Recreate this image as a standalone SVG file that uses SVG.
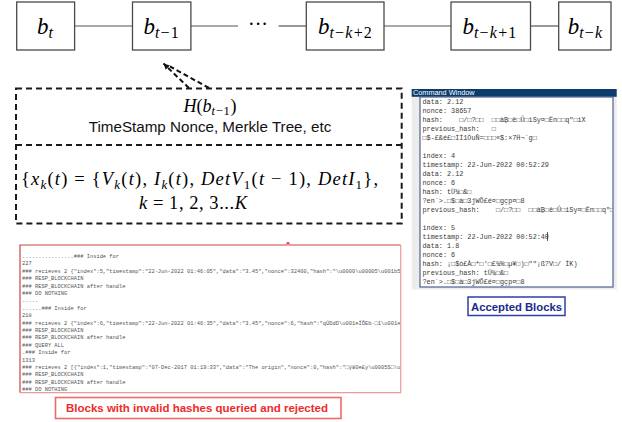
<svg xmlns="http://www.w3.org/2000/svg" width="622" height="422" viewBox="0 0 622 422">
<style>
.box{fill:#fff;stroke:#4a4a4a;stroke-width:1.3}
.link{stroke:#555;stroke-width:1.2;fill:none}
.m{font-family:"Liberation Serif","DejaVu Serif",serif;font-style:italic;fill:#000}
.up{font-style:normal}
.lbl{font-size:23px}
.sb{font-size:16px;letter-spacing:1.2px}
.dash{stroke:#1a1a1a;stroke-width:2;stroke-dasharray:6 4;fill:none}
.arr{stroke:#111;stroke-width:2;stroke-dasharray:5 3;fill:none}
.sans{font-family:"Liberation Sans",Arial,sans-serif}
.cw{font-family:"Liberation Mono","DejaVu Sans Mono",monospace;font-size:6.8px;fill:#3a3a3a;white-space:pre}
.lg{font-family:"Liberation Mono","DejaVu Sans Mono",monospace;font-size:5.4px;fill:#555;white-space:pre}
</style>
<defs>
<marker id="ah" markerWidth="8" markerHeight="8" refX="6" refY="3" orient="auto" markerUnits="userSpaceOnUse">
<path d="M0,0 L6,3 L0,6 z" fill="#111"/>
</marker>
<clipPath id="cwclip"><rect x="421" y="97.5" width="191.5" height="189"/></clipPath>
<clipPath id="lgclip"><rect x="21" y="246" width="379" height="146"/></clipPath>
</defs>
<rect width="622" height="422" fill="#fff"/>

<g id="connectors">
<line class="link" x1="74.6" y1="26" x2="132.5" y2="26"/>
<line class="link" x1="190.9" y1="26" x2="238" y2="26"/>
<text class="m up" x="258" y="31" font-size="20" text-anchor="middle">···</text>
<line class="link" x1="278.6" y1="26" x2="306.3" y2="26"/>
<line class="link" x1="384" y1="26" x2="451" y2="26"/>
<line class="link" x1="530.5" y1="26" x2="558.7" y2="26"/>
<line class="arr" x1="189" y1="88" x2="163.5" y2="63.5" marker-end="url(#ah)"/>
<line class="arr" x1="209" y1="88" x2="170" y2="66.5"/>
</g>

<g id="node-bt">
<rect class="box" x="16.7" y="2" width="57.9" height="48"/>
<text class="m lbl" x="45.6" y="33.5" text-anchor="middle">b<tspan class="sb" dy="4">t</tspan></text>
</g>
<g id="node-bt1">
<rect class="box" x="132.5" y="2" width="58.4" height="48"/>
<text class="m lbl" x="161.7" y="33.5" text-anchor="middle">b<tspan class="sb" dy="4">t<tspan class="up">−1</tspan></tspan></text>
</g>
<g id="node-btk2">
<rect class="box" x="306.3" y="2" width="77.7" height="48"/>
<text class="m lbl" x="345.5" y="33.5" text-anchor="middle">b<tspan class="sb" dy="4">t<tspan class="up">−</tspan>k<tspan class="up">+2</tspan></tspan></text>
</g>
<g id="node-btk1">
<rect class="box" x="451" y="2" width="79.5" height="48"/>
<text class="m lbl" x="490" y="33.5" text-anchor="middle">b<tspan class="sb" dy="4">t<tspan class="up">−</tspan>k<tspan class="up">+1</tspan></tspan></text>
</g>
<g id="node-btk">
<rect class="box" x="558.7" y="2" width="52.3" height="48"/>
<text class="m lbl" x="585.5" y="33.5" text-anchor="middle">b<tspan class="sb" dy="4">t<tspan class="up">−</tspan>k</tspan></text>
</g>

<g id="block-detail">
<rect class="dash" x="16" y="88.5" width="385.7" height="135"/>
<line class="dash" x1="16" y1="145" x2="401.7" y2="145"/>
<text class="m" x="210" y="111.8" font-size="18" text-anchor="middle">H<tspan class="up">(</tspan>b<tspan dy="3" font-size="12.5" letter-spacing="0.8">t<tspan class="up">−1</tspan></tspan><tspan dy="-3" class="up">)</tspan></text>
<text class="sans" x="210" y="131.7" font-size="15.2" text-anchor="middle" fill="#111">TimeStamp Nonce, Merkle Tree, etc</text>
<text class="m" x="21" y="185" font-size="18.5" textLength="357" lengthAdjust="spacing"><tspan class="up">{</tspan>x<tspan dy="3.5" font-size="13">k</tspan><tspan dy="-3.5" class="up">(</tspan>t<tspan class="up">) = {</tspan>V<tspan dy="3.5" font-size="13">k</tspan><tspan dy="-3.5" class="up">(</tspan>t<tspan class="up">), </tspan>I<tspan dy="3.5" font-size="13">k</tspan><tspan dy="-3.5" class="up">(</tspan>t<tspan class="up">), </tspan>DetV<tspan dy="3.5" font-size="13" class="up">1</tspan><tspan dy="-3.5" class="up">(</tspan>t<tspan class="up"> − 1),  </tspan>DetI<tspan dy="3.5" font-size="13" class="up">1</tspan><tspan dy="-3.5" class="up">},</tspan></text>
<text class="m" x="139" y="209.3" font-size="18.5" textLength="108" lengthAdjust="spacing">k<tspan class="up"> = 1, 2, 3...</tspan>K</text>
</g>

<g id="command-window">
<rect x="411.7" y="89" width="205" height="200.5" fill="#ececec"/>
<rect x="411.7" y="89" width="205" height="7.8" fill="#0b3c6c"/>
<text class="sans" x="413" y="95.3" font-size="7.3" fill="#fff">Command Window</text>
<rect x="420" y="97" width="193" height="190" fill="#fff" stroke="#4d6190" stroke-width="1.2"/>
<g clip-path="url(#cwclip)">
<text class="cw" x="422.5" y="104">data: 2.12</text>
<text class="cw" x="422.5" y="113">nonce: 38657</text>
<text class="cw" x="422.5" y="122">hash:    □/□?□□  □□à₿□ê□Û□iSy¤□Ën□□q"□iX</text>
<text class="cw" x="422.5" y="131">previous_hash:   □</text>
<text class="cw" x="422.5" y="140">□$-£&amp;é£□ÌÍ1ÓuÑ=□□□«$:×7Ḧ¬`g□</text>
<text class="cw" x="422.5" y="158">index: 4</text>
<text class="cw" x="422.5" y="167">timestamp: 22-Jun-2022 00:52:29</text>
<text class="cw" x="422.5" y="176">data: 2.12</text>
<text class="cw" x="422.5" y="185">nonce: 6</text>
<text class="cw" x="422.5" y="194">hash: tÜ¾□&amp;□</text>
<text class="cw" x="422.5" y="203">?en`&gt;.□$□à□3jWÕ£é¤□gçp¤□8</text>
<text class="cw" x="422.5" y="212">previous_hash:    □/□?□□  □□à₿□ê□Û□iSy¤□Ën□□q"□iX</text>
<text class="cw" x="422.5" y="230">index: 5</text>
<text class="cw" x="422.5" y="239">timestamp: 22-Jun-2022 00:52:40</text>
<line x1="547.5" y1="232" x2="547.5" y2="241" stroke="#333" stroke-width="0.8"/>
<text class="cw" x="422.5" y="248">data: 1.8</text>
<text class="cw" x="422.5" y="257">nonce: 6</text>
<text class="cw" x="422.5" y="266">hash: ¡□$ó£Å□*□'□£¾%□µ¥□)□""¡ß?V□/ ÎK)</text>
<text class="cw" x="422.5" y="275">previous_hash: tÜ¾□&amp;□</text>
<text class="cw" x="422.5" y="284">?en`&gt;.□$□à□3jWÕ£é¤□gçp¤□8</text>
</g>
</g>

<g id="label-accepted">
<rect x="468" y="297" width="97" height="18.5" fill="#fff" stroke="#2f3fa6" stroke-width="1.5"/>
<text class="sans" x="516.5" y="310.6" font-size="11.3" font-weight="bold" fill="#1b2a8c" text-anchor="middle">Accepted Blocks</text>
</g>

<g id="log-window">
<rect x="20" y="245" width="380.7" height="147.7" fill="#fff"/>
<path d="M20,392.7 V245 H400.7" fill="none" stroke="#c94444" stroke-width="1.2"/>
<path d="M400.7,245 V392.7 H20" fill="none" stroke="#ee9a9a" stroke-width="1.2"/>
<rect x="286.5" y="242.3" width="3" height="1.6" fill="#d03030"/>
<g clip-path="url(#lgclip)">
<text class="lg" x="22" y="258">................### Inside for</text>
<text class="lg" x="22" y="265.4">227</text>
<text class="lg" x="22" y="272.8">### recieves 2 {"index":5,"timestamp":"22-Jun-2022 01:46:05","data":"3.45","nonce":32400,"hash":"\u0000\u00005\u001b5</text>
<text class="lg" x="22" y="280.2">### RESP_BLOCKCHAIN</text>
<text class="lg" x="22" y="287.6">### RESP_BLOCKCHAIN after handle</text>
<text class="lg" x="22" y="295">### DO NOTHING</text>
<text class="lg" x="22" y="302.4">.....</text>
<text class="lg" x="22" y="309.8">......### Inside for</text>
<text class="lg" x="22" y="317.2">218</text>
<text class="lg" x="22" y="324.6">### recieves 2 {"index":6,"timestamp":"22-Jun-2022 01:46:35","data":"3.45","nonce":6,"hash":"qÛDdD\u001eÎÕEb·□1\u001e</text>
<text class="lg" x="22" y="332">### RESP_BLOCKCHAIN</text>
<text class="lg" x="22" y="339.4">### RESP_BLOCKCHAIN after handle</text>
<text class="lg" x="22" y="346.8">### QUERY ALL</text>
<text class="lg" x="22" y="354.2">.### Inside for</text>
<text class="lg" x="22" y="361.6">1313</text>
<text class="lg" x="22" y="369">### recieves 2 [{"index":1,"timestamp":"07-Dec-2017 01:19:33","data":"The origin","nonce":0,"hash":"□ÿ¥0e£y\u0005S□\u0</text>
<text class="lg" x="22" y="376.4">### RESP_BLOCKCHAIN</text>
<text class="lg" x="22" y="383.8">### RESP_BLOCKCHAIN after handle</text>
<text class="lg" x="22" y="391.2">### DO NOTHING</text>
</g>
</g>

<g id="label-rejected">
<rect x="55.5" y="397.5" width="285.5" height="21" fill="#fff" stroke="#f06a6a" stroke-width="1.6"/>
<text class="sans" x="197" y="411.6" font-size="11.5" font-weight="bold" fill="#ee2b2b" text-anchor="middle">Blocks with invalid hashes queried and rejected</text>
</g>
</svg>
